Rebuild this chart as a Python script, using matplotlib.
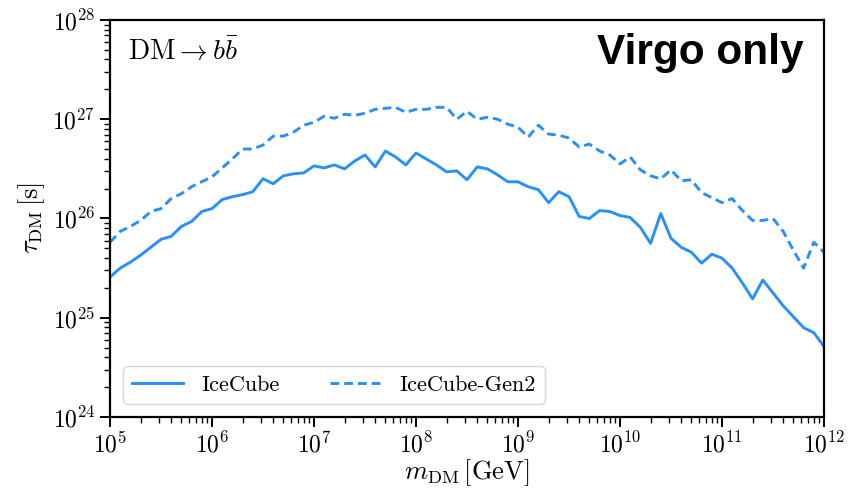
import numpy as np
import matplotlib
matplotlib.use("Agg")
import matplotlib.pyplot as plt

plt.rcParams['font.family'] = 'serif'
plt.rcParams['font.serif'] = ['cmr10']
plt.rcParams['mathtext.fontset'] = 'cm'
plt.rcParams['axes.formatter.use_mathtext'] = True
plt.rcParams['axes.unicode_minus'] = False

# DM mass grid: 10^5 .. 10^12 GeV in steps of 0.1 dex
log_m = np.arange(5.0, 12.05, 0.1)

# log10 of the lifetime limits [s]
log_tau_icecube = [
    25.41, 25.50, 25.56, 25.63, 25.71, 25.79, 25.82, 25.92, 25.97, 26.07,
    26.10, 26.19, 26.22, 26.24, 26.27, 26.40, 26.35, 26.43, 26.45, 26.46,
    26.53, 26.51, 26.54, 26.50, 26.58, 26.64, 26.52, 26.68, 26.62, 26.54,
    26.66, 26.60, 26.54, 26.47, 26.48, 26.39, 26.52, 26.50, 26.44, 26.37,
    26.37, 26.32, 26.29, 26.16, 26.27, 26.22, 26.02, 26.00, 26.08, 26.07,
    26.03, 26.01, 25.91, 25.75, 26.05, 25.80, 25.71, 25.66, 25.55, 25.64,
    25.60, 25.50, 25.35, 25.19, 25.38, 25.25, 25.12, 25.01, 24.90, 24.85,
    24.71,
]
log_tau_gen2 = [
    25.76, 25.87, 25.92, 25.98, 26.07, 26.10, 26.20, 26.25, 26.32, 26.37,
    26.42, 26.51, 26.60, 26.70, 26.70, 26.74, 26.83, 26.83, 26.87, 26.94,
    26.97, 27.03, 27.01, 27.05, 27.04, 27.06, 27.10, 27.11, 27.12, 27.07,
    27.10, 27.10, 27.12, 27.12, 27.00, 27.08, 27.00, 27.02, 27.00, 26.95,
    26.92, 26.82, 26.94, 26.85, 26.84, 26.81, 26.72, 26.75, 26.68, 26.64,
    26.55, 26.62, 26.49, 26.43, 26.40, 26.49, 26.38, 26.39, 26.26, 26.21,
    26.16, 26.20, 26.08, 25.98, 25.98, 26.00, 25.87, 25.68, 25.50, 25.76,
    25.66,
]

m_dm = 10.0 ** log_m
tau_icecube = 10.0 ** np.array(log_tau_icecube)
tau_gen2 = 10.0 ** np.array(log_tau_gen2)

color = '#2890fb'

fig = plt.figure(figsize=(8.5, 4.9), dpi=100)
ax = fig.add_axes([0.1294, 0.149, 0.8400, 0.8102])

ax.plot(m_dm, tau_icecube, color=color, lw=2.1, label='IceCube')
ax.plot(m_dm, tau_gen2, color=color, lw=2.1, dashes=(3.0, 1.7),
        label='IceCube-Gen2')

ax.set_xscale('log')
ax.set_yscale('log')
ax.set_xlim(1e5, 1e12)
ax.set_ylim(1e24, 1e28)

ax.set_xlabel(r'$m_{\rm DM}\,[{\rm GeV}]$', fontsize=19, labelpad=0)
ax.set_ylabel(r'$\tau_{\rm DM}\,[{\rm s}]$', fontsize=19, labelpad=4)

for side in ax.spines.values():
    side.set_linewidth(1.6)
ax.tick_params(which='major', length=7, width=1.4, labelsize=17)
ax.tick_params(which='minor', length=4, width=1.0)

ax.text(0.025, 0.955, r'$\mathrm{DM}\to b\bar{b}$', transform=ax.transAxes,
        fontsize=20, ha='left', va='top')
ax.text(0.972, 0.967, 'Virgo only', transform=ax.transAxes,
        fontsize=30.5, fontweight='bold', family='Liberation Sans',
        ha='right', va='top')

ax.legend(loc='lower left', ncol=2, fontsize=16, handlelength=2.3,
          columnspacing=2.3, borderaxespad=0.6)

fig.savefig('out.png', dpi=100)
